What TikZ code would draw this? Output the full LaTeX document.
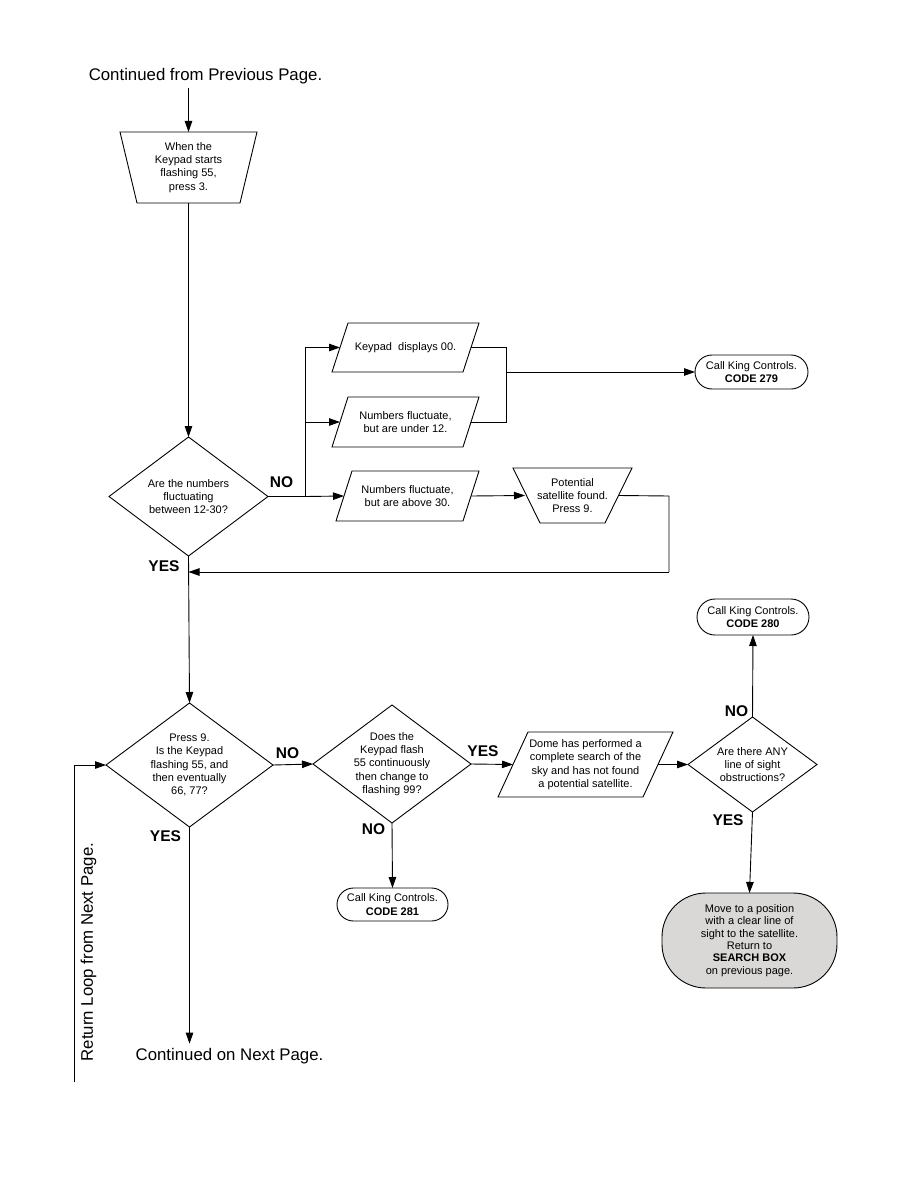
\documentclass[tikz,border=0pt]{standalone}
\usepackage{fontspec}
\setmainfont{Liberation Sans}
\usetikzlibrary{arrows.meta,calc}
\begin{document}
\begin{tikzpicture}[x=1pt,y=-1pt,
  txt/.style={font=\fontsize{11}{13.3}\selectfont, align=center},
  shp/.style={txt, inner sep=0pt, outer sep=0pt},
  rbox/.style={txt, draw, line width=0.9pt, inner sep=0pt, outer sep=0pt, rounded corners=17pt},
  lbl/.style={font=\fontsize{15.5}{18}\selectfont\bfseries},
  big/.style={font=\fontsize{16.8}{20}\selectfont},
  ln/.style={line width=0.9pt},
  arr/.style={ln, -{Triangle[length=11pt,width=7.5pt]}}]
\useasboundingbox (0,0) rectangle (918,1188);

% ---------- nodes ----------
\node[big] (t1) at (205.5,76) {Continued from Previous Page.};

\node[shp, minimum width=137pt, minimum height=71pt] (tr1) at (188.5,167.5)
  {When the\\Keypad starts\\flashing 55,\\press 3.};
\draw[ln] (tr1.north west) -- (tr1.north east) -- ([xshift=-17pt]tr1.south east)
  -- ([xshift=17pt]tr1.south west) -- cycle;

\node[shp, minimum width=159pt, minimum height=119pt] (d1) at (188.5,496.5)
  {Are the numbers\\fluctuating\\between 12-30?};
\draw[ln] (d1.north) -- (d1.east) -- (d1.south) -- (d1.west) -- cycle;

\node[shp, minimum width=131pt, minimum height=49pt] (p1) at (405.5,347.5)
  {Keypad\ \ displays 00.};
\draw[ln] ([xshift=8pt]p1.north west) -- ([xshift=8pt]p1.north east)
  -- ([xshift=-8pt]p1.south east) -- ([xshift=-8pt]p1.south west) -- cycle;

\node[shp, minimum width=131pt, minimum height=50pt] (p2) at (405.5,422)
  {Numbers fluctuate,\\but are under 12.};
\draw[ln] ([xshift=8pt]p2.north west) -- ([xshift=8pt]p2.north east)
  -- ([xshift=-8pt]p2.south east) -- ([xshift=-8pt]p2.south west) -- cycle;

\node[shp, minimum width=127pt, minimum height=50pt] (p3) at (407.5,496)
  {Numbers fluctuate,\\but are above 30.};
\draw[ln] ([xshift=8pt]p3.north west) -- ([xshift=8pt]p3.north east)
  -- ([xshift=-8pt]p3.south east) -- ([xshift=-8pt]p3.south west) -- cycle;

\node[shp, minimum width=119pt, minimum height=55pt] (tr2) at (572.5,495.5)
  {Potential\\satellite found.\\Press 9.};
\draw[ln] (tr2.north west) -- (tr2.north east) -- ([xshift=-27pt]tr2.south east)
  -- ([xshift=27pt]tr2.south west) -- cycle;

\node[rbox, minimum width=113pt, minimum height=34pt] (b279) at (751.5,372)
  {Call King Controls.\\\textbf{CODE 279}};

\node[shp, minimum width=167pt, minimum height=124pt] (d2) at (189.5,765)
  {Press 9.\\Is the Keypad\\flashing 55, and\\then eventually\\66, 77?};
\draw[ln] (d2.north) -- (d2.east) -- (d2.south) -- (d2.west) -- cycle;

\node[shp, minimum width=158pt, minimum height=118pt] (d3) at (392,764)
  {Does the\\Keypad flash\\55 continuously\\then change to\\flashing 99?};
\draw[ln] (d3.north) -- (d3.east) -- (d3.south) -- (d3.west) -- cycle;

\node[shp, minimum width=145pt, minimum height=65pt] (p4) at (585.5,764.5)
  {Dome has performed a\\complete search of the\\sky and has not found\\a potential satellite.};
\draw[ln] ([xshift=15pt]p4.north west) -- ([xshift=15pt]p4.north east)
  -- ([xshift=-15pt]p4.south east) -- ([xshift=-15pt]p4.south west) -- cycle;

\node[shp, minimum width=129pt, minimum height=95pt] (d4) at (752.5,764.5)
  {Are there ANY\\line of sight\\obstructions?};
\draw[ln] (d4.north) -- (d4.east) -- (d4.south) -- (d4.west) -- cycle;

\node[rbox, minimum width=112pt, minimum height=36pt, rounded corners=18pt] (b280) at (753,617)
  {Call King Controls.\\\textbf{CODE 280}};

\node[rbox, minimum width=111pt, minimum height=33pt, rounded corners=16.5pt] (b281) at (392.5,904.5)
  {Call King Controls.\\\textbf{CODE 281}};

\node[rbox, minimum width=175pt, minimum height=95pt, rounded corners=44pt,
      fill={rgb,255:red,218;green,216;blue,214}, font=\fontsize{11}{12.3}\selectfont] (grey) at (749.5,940.5)
  {Move to a position\\with a clear line of\\sight to the satellite.\\Return to\\\textbf{SEARCH BOX}\\on previous page.};

\node[big] (t2) at (229.5,1056) {Continued on Next Page.};
\node[big, rotate=90] (t3) at (88.5,952) {Return Loop from Next Page.};

% ---------- labels ----------
\node[lbl] (l1) at (281.5,482.5) {NO};
\node[lbl] (l2) at (164,566.5) {YES};
\node[lbl] (l3) at (287.5,753.5) {NO};
\node[lbl] (l4) at (165.5,836) {YES};
\node[lbl] (l5) at (373.5,829) {NO};
\node[lbl] (l6) at (483,751) {YES};
\node[lbl] (l7) at (736.5,711) {NO};
\node[lbl] (l8) at (728,820) {YES};

% ---------- coordinates ----------
\coordinate (br) at (305,496.5);
\coordinate (mg) at (506,372);
\coordinate (rt) at (669,496);
\coordinate (lp) at (669,572);
\coordinate (rl) at (74,1082);

% ---------- connectors ----------
\draw[arr] ([yshift=-1pt]t1.south -| tr1.north) -- (tr1.north);
\draw[arr] (tr1.south) -- (d1.north);
\draw[ln] (d1.east) -- (br);
\draw[arr] (br) -- (p3.west);
\draw[arr] (br) |- (p1.west);
\draw[arr] (br |- p2.west) -- (p2.west);
\draw[ln] (p1.east) -| (mg);
\draw[ln] (p2.east) -| (mg);
\draw[arr] (mg) -- (b279.west);
\draw[arr] (p3.east) -- ([xshift=12pt]tr2.west);
\draw[ln] ([xshift=-13pt]tr2.east) -- (rt) -- (lp);
\draw[arr] (lp) -- (d1.south |- lp);
\draw[arr] (d1.south) -- (d2.north);
\draw[arr] (d2.east) -- (d3.west);
\draw[arr] (d3.east) -- (p4.west);
\draw[arr] (p4.east) -- (d4.west);
\draw[arr] (d4.north) -- (b280.south);
\draw[arr] (d4.south) -- (grey.north);
\draw[arr] (d3.south) -- (b281.north);
\draw[arr] (d2.south) -- ([yshift=1pt]d2.south |- t2.north);
\draw[arr] (rl) |- (d2.west);
\end{tikzpicture}
\end{document}
